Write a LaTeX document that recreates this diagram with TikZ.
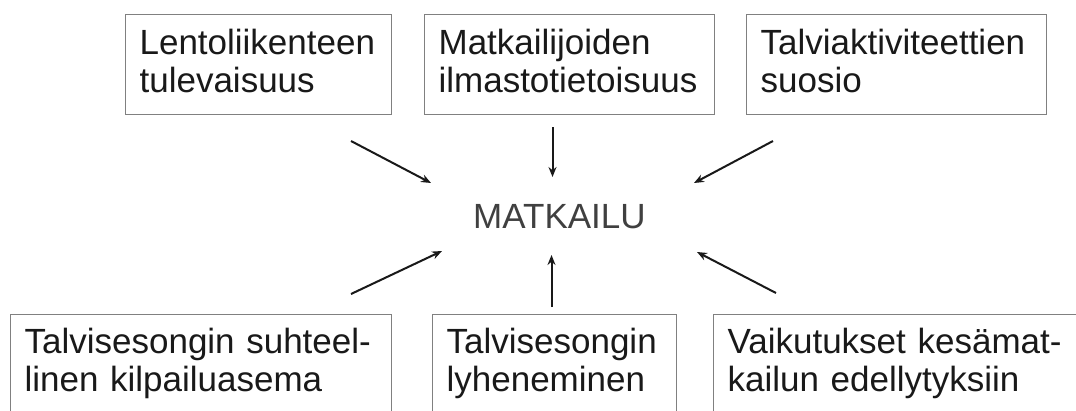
\documentclass[tikz,border=0pt]{standalone}
\usepackage{fontspec}
\setmainfont{Liberation Sans}
\usetikzlibrary{arrows.meta}
\begin{document}
\begin{tikzpicture}[x=1pt,y=-1pt,
  box/.style={draw=black!50, line width=1.2pt, anchor=north west, inner xsep=14pt, inner ysep=0pt,
    align=left, font=\fontsize{35}{38}\selectfont, text=black!90},
  topbox/.style={box, text height=40pt, text depth=60pt},
  botbox/.style={box, text height=39pt, text depth=90pt},
  arr/.style={line width=2pt, draw=black!90, -{Stealth[length=10pt,width=8pt]}}]
\useasboundingbox (0,0) rectangle (1076,410);
\clip (0,0) rectangle (1076,410);
\fill[white] (0,0) rectangle (1076,410);
% top boxes
\node[topbox, text width=238pt] (b1) at (125,14) {Lentoliikenteen\\tulevaisuus};
\node[topbox, text width=262pt] (b2) at (424,14) {Matkailijoiden\\ilmastotietoisuus};
\node[topbox, text width=272pt] (b3) at (746,14) {Talviaktiviteettien\\suosio};
% bottom boxes
\node[botbox, text width=353pt] (b4) at (10,314) {Talvisesongin suhteel-\\linen kilpailuasema};
\node[botbox, text width=216pt] (b5) at (432,314) {Talvisesongin\\lyheneminen};
\node[botbox, text width=400pt] (b6) at (713,314) {Vaikutukset kesämat-\\kailun edellytyksiin};
% centre
\node[anchor=base west, inner sep=0pt, font=\fontsize{35}{38}\selectfont, text=black!75] (m) at (473,228) {MATKAILU};
% arrow end points
\coordinate (s1) at (351,141); \coordinate (e1) at (431,183);
\coordinate (s2) at (552.5,127); \coordinate (e2) at (552.5,177);
\coordinate (s3) at (773,141); \coordinate (e3) at (694,183);
\coordinate (s4) at (351,294); \coordinate (e4) at (442,251);
\coordinate (s5) at (551.5,307); \coordinate (e5) at (551.5,255);
\coordinate (s6) at (776,293); \coordinate (e6) at (697,252);
\draw[arr] (s1) -- (e1);
\draw[arr] (s2) -- (e2);
\draw[arr] (s3) -- (e3);
\draw[arr] (s4) -- (e4);
\draw[arr] (s5) -- (e5);
\draw[arr] (s6) -- (e6);
\end{tikzpicture}
\end{document}
